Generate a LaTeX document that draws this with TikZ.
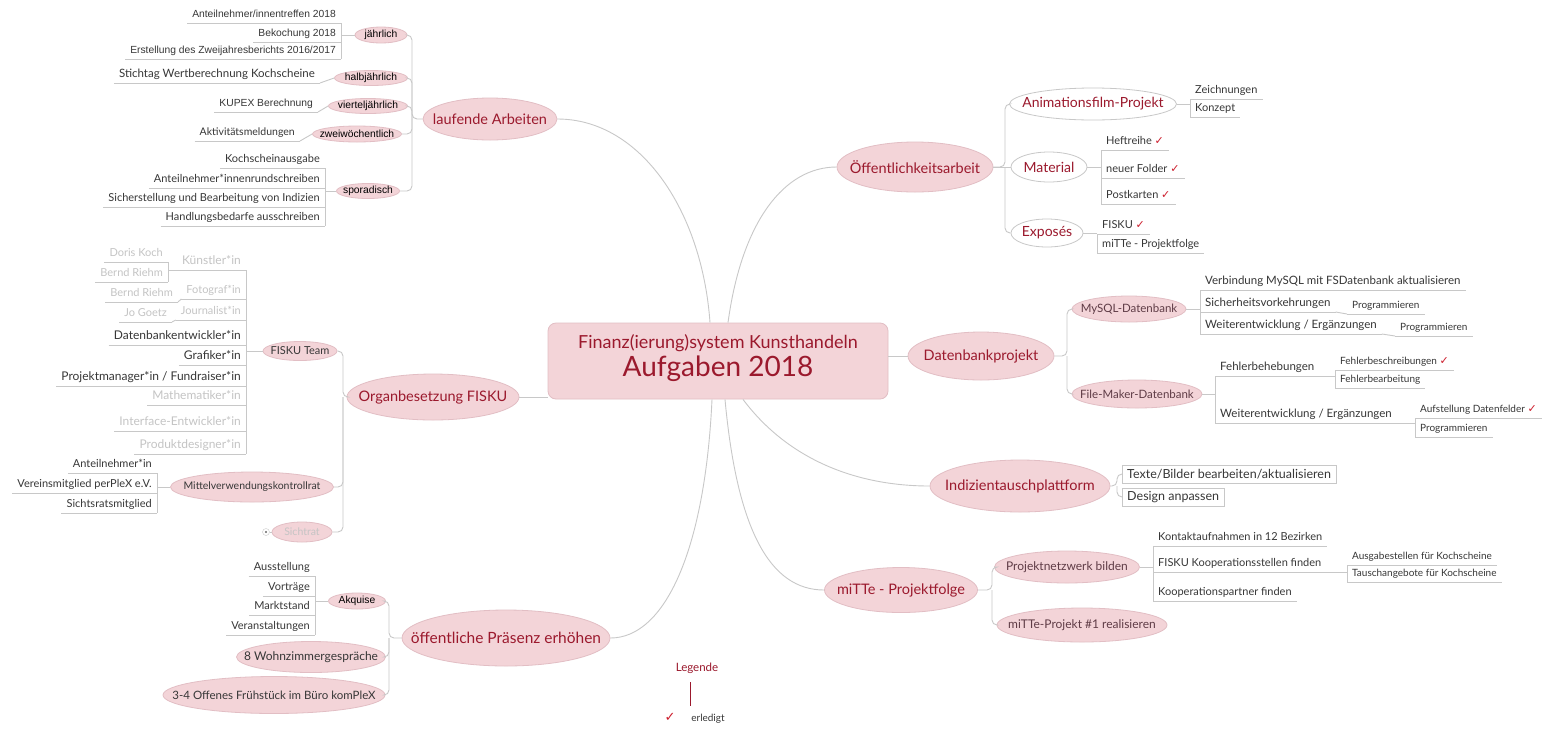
\documentclass[tikz,border=0pt]{standalone}
\usepackage{fontspec}
\setmainfont{Lato}
\newfontfamily\arf{Liberation Sans}
\newfontfamily\djf{DejaVu Sans}
\usetikzlibrary{shapes.geometric}
\definecolor{pk}{RGB}{243,212,216}
\definecolor{pkd}{RGB}{226,190,196}
\definecolor{dred}{RGB}{155,25,45}
\definecolor{lnc}{RGB}{200,200,200}
\definecolor{txt}{RGB}{55,55,55}
\definecolor{fad}{RGB}{196,196,196}
\definecolor{chk}{RGB}{205,30,45}
\definecolor{subc}{RGB}{95,60,70}
\newcommand\ctr[1]{\makebox[0pt]{#1}}
\newcommand\ok{~{\djf\color{chk}\fontsize{11}{11}\selectfont ✓}}
\begin{document}
\begin{tikzpicture}[x=1pt,y=-1pt,
 ln/.style={draw=lnc, line width=0.9pt},
 br/.style={ln, rounded corners=5pt},
 el/.style={ellipse, inner sep=0pt, fill=pk, draw=pkd, line width=0.8pt},
 main/.style={el, text=dred, font=\fontsize{14.5}{17}\selectfont},
 wel/.style={el, fill=white, draw=lnc, text=dred, font=\fontsize{14}{16}\selectfont},
 sel/.style={el, text=subc, font=\fontsize{11.5}{14}\selectfont},
 ael/.style={el, text=black, font=\arf\fontsize{10.3}{12}\selectfont},
 del/.style={el, text=txt, font=\fontsize{11}{13}\selectfont},
 ri/.style={anchor=south west, inner xsep=5pt, inner ysep=2.5pt, text height=8pt, text depth=2.5pt, text=txt, font=\fontsize{11}{13}\selectfont, append after command={(\tikzlastnode.south west) edge[ln] (\tikzlastnode.south east)}},
 li/.style={ri, anchor=south east},
 fd/.style={text=fad},
 sm/.style={font=\fontsize{10}{12}\selectfont},
 md/.style={font=\fontsize{11.5}{13}\selectfont},
 lg/.style={font=\fontsize{12}{14}\selectfont},
 ar/.style={font=\arf\fontsize{10.3}{12}\selectfont},
 bx/.style={draw=lnc, fill=white, anchor=west, inner xsep=5pt, minimum height=18pt, text=txt, font=\fontsize{12.5}{14}\selectfont},
 cen/.style={rectangle, rounded corners=8pt, fill=pk, draw=pkd, line width=0.8pt, minimum width=340pt, minimum height=76pt}
]
\fill[white] (0,0) rectangle (1552,729);
\useasboundingbox (0,0) rectangle (1552,729);

% ---------- central
\node[cen] (c) at (718,361) {};
\node[text=dred, font=\fontsize{18}{20}\selectfont] (ct1) at (718,343) {Finanz(ierung)system Kunsthandeln};
\node[text=dred, font=\fontsize{28}{30}\selectfont] (ct2) at (718,369) {Aufgaben 2018};

% ---------- Öffentlichkeitsarbeit
\node[main, minimum width=156pt, minimum height=50pt] (oa) at (915,167) {\ctr{Öffentlichkeitsarbeit}};
\node[wel, minimum width=167pt, minimum height=32pt] (af) at (1093,104) {\ctr{Animationsfilm-Projekt}};
\node[wel, minimum width=76pt, minimum height=30pt] (mat) at (1049,167) {\ctr{Material}};
\node[wel, minimum width=72pt, minimum height=28pt] (exp) at (1047,233) {\ctr{Exposés}};
\coordinate (j1) at (1005,167);
\draw[ln] (oa.east) -- (mat.west);
\draw[br] (oa.east) -- (j1) |- (af.west);
\draw[br] (j1) |- (exp.west);

\node[ri] (af1) at (1190,99) {Zeichnungen};
\node[ri] (af2) at (1190,117) {Konzept};
\draw[ln] (af.east) -- (af.east -| af1.south west);
\draw[ln] (af1.south west) -- (af2.south west);

\node[ri] (m1) at (1101,150) {Heftreihe\ok};
\node[ri] (m2) at (1101,178) {neuer Folder\ok};
\node[ri] (m3) at (1101,204) {Postkarten\ok};
\draw[ln] (mat.east) -- (mat.east -| m1.south west);
\draw[ln] (m1.south west) -- (m3.south west);

\node[ri] (e1) at (1097,234) {FISKU\ok};
\node[ri] (e2) at (1097,253) {miTTe - Projektfolge};
\draw[ln] (exp.east) -- (exp.east -| e1.south west);
\draw[ln] (e1.south west) -- (e2.south west);

% ---------- Datenbankprojekt
\node[main, minimum width=146pt, minimum height=48pt] (db) at (981,356) {\ctr{Datenbankprojekt}};
\node[sel, minimum width=114pt, minimum height=26pt] (my) at (1129,309) {\ctr{MySQL-Datenbank}};
\node[sel, minimum width=130pt, minimum height=28pt] (fm) at (1137,394) {\ctr{File-Maker-Datenbank}};
\coordinate (j2) at (1067,356);
\draw[ln] (db.west) -- (db.west -| c.east);
\draw[br] (db.east) -- (j2) |- (my.west);
\draw[br] (j2) |- (fm.west);

\node[ri, md] (my1) at (1200,290) {Verbindung MySQL mit FSDatenbank aktualisieren};
\node[ri, md] (my2) at (1200,312) {Sicherheitsvorkehrungen};
\node[ri, md] (my3) at (1200,334) {Weiterentwicklung / Ergänzungen};
\draw[ln] (my.east) -- (my.east -| my1.south west);
\draw[ln] (my1.south west) -- (my3.south west);
\node[ri, sm] (my2a) at (1347,314) {Programmieren};
\node[ri, sm] (my3a) at (1395,336) {Programmieren};
\draw[ln] (my2.south east) -- (my2a.south west);
\draw[ln] (my3.south east) -- (my3a.south west);

\node[ri, md] (fm1) at (1215,376) {Fehlerbehebungen};
\node[ri, md] (fm2) at (1215,423) {Weiterentwicklung / Ergänzungen};
\draw[ln] (fm.east) -- (fm.east -| fm1.south west);
\draw[ln] (fm1.south west) -- (fm2.south west);
\node[ri, sm] (fm1a) at (1335,370) {Fehlerbeschreibungen\ok};
\node[ri, sm] (fm1b) at (1335,388) {Fehlerbearbeitung};
\draw[ln] (fm1.south east) -- (fm1.south east -| fm1a.south west);
\draw[ln] (fm1a.south west) -- (fm1b.south west);
\node[ri, sm] (fm2a) at (1415,418) {Aufstellung Datenfelder\ok};
\node[ri, sm] (fm2b) at (1415,437) {Programmieren};
\draw[ln] (fm2.south east) -- (fm2.south east -| fm2a.south west);
\draw[ln] (fm2a.south west) -- (fm2b.south west);

% ---------- Indizientauschplattform
\node[main, minimum width=180pt, minimum height=52pt] (ind) at (1020,486) {\ctr{Indizientauschplattform}};
\node[bx] (in1) at (1122,474) {Texte/Bilder bearbeiten/aktualisieren};
\node[bx] (in2) at (1122,497) {Design anpassen};
\coordinate (j3) at (1117,486);
\draw[br] (ind.east) -- (j3) |- (in1.west);
\draw[br] (j3) |- (in2.west);

% ---------- miTTe
\node[main, minimum width=153pt, minimum height=45pt] (mi) at (901,590) {\ctr{miTTe - Projektfolge}};
\node[sel, lg, minimum width=145pt, minimum height=32pt] (pn) at (1067,567) {\ctr{Projektnetzwerk bilden}};
\node[sel, lg, minimum width=170pt, minimum height=34pt] (mp) at (1082,625) {\ctr{miTTe-Projekt \#1 realisieren}};
\coordinate (j4) at (992,590);
\draw[br] (mi.east) -- (j4) |- (pn.west);
\draw[br] (j4) |- (mp.west);

\node[ri] (pn1) at (1153,546) {Kontaktaufnahmen in 12 Bezirken};
\node[ri] (pn2) at (1153,572) {FISKU Kooperationsstellen finden};
\node[ri] (pn3) at (1153,601) {Kooperationspartner finden};
\draw[ln] (pn.east) -- (pn.east -| pn1.south west);
\draw[ln] (pn1.south west) -- (pn3.south west);
\node[ri, sm] (pn2a) at (1347,565) {Ausgabestellen für Kochscheine};
\node[ri, sm] (pn2b) at (1347,582) {Tauschangebote für Kochscheine};
\draw[ln] (pn2.south east) -- (pn2.south east -| pn2a.south west);
\draw[ln] (pn2a.south west) -- (pn2b.south west);

% ---------- laufende Arbeiten
\node[main, minimum width=134pt, minimum height=42pt] (la) at (490,119) {\ctr{laufende Arbeiten}};
\node[ael, minimum width=52pt, minimum height=16pt] (ja) at (381,35) {\ctr{jährlich}};
\node[ael, minimum width=73pt, minimum height=15pt] (hj) at (371,78) {\ctr{halbjährlich}};
\node[ael, minimum width=79pt, minimum height=15pt] (vj) at (368,106) {\ctr{vierteljährlich}};
\node[ael, minimum width=89pt, minimum height=16pt] (zw) at (357,134) {\ctr{zweiwöchentlich}};
\node[ael, minimum width=63pt, minimum height=15pt] (sp) at (368,191) {\ctr{sporadisch}};
\coordinate (j5) at (412,119);
\draw[br] (la.west) -- (j5) |- (ja.east);
\draw[br] (j5) |- (hj.east);
\draw[br] (j5) |- (vj.east);
\draw[br] (j5) |- (zw.east);
\draw[br] (j5) |- (sp.east);

\node[li, ar] (ja1) at (341,23) {Anteilnehmer/innentreffen 2018};
\node[li, ar] (ja2) at (341,42) {Bekochung 2018};
\node[li, ar] (ja3) at (341,59) {Erstellung des Zweijahresberichts 2016/2017};
\draw[ln] (ja.west) -- (ja.west -| ja1.south east);
\draw[ln] (ja1.south east) -- (ja3.south east);
\node[li, md] (hj1) at (320,83) {Stichtag Wertberechnung Kochscheine};
\draw[ln] (hj.west) -- (hj1.south east);
\node[li, ar] (vj1) at (318,112) {KUPEX Berechnung};
\draw[ln] (vj.west) -- (vj1.south east);
\node[li, font=\fontsize{10.5}{12}\selectfont] (zw1) at (300,141) {Aktivitätsmeldungen};
\draw[ln] (zw.west) -- (zw1.south east);

\node[li] (sp1) at (325,168) {Kochscheinausgabe};
\node[li] (sp2) at (325,188) {Anteilnehmer*innenrundschreiben};
\node[li] (sp3) at (325,207) {Sicherstellung und Bearbeitung von Indizien};
\node[li] (sp4) at (325,226) {Handlungsbedarfe ausschreiben};
\draw[ln] (sp.west) -- (sp.west -| sp1.south east);
\draw[ln] (sp1.south east) -- (sp4.south east);

% ---------- Organbesetzung FISKU
\node[main, minimum width=172pt, minimum height=46pt] (ob) at (433,397) {\ctr{Organbesetzung FISKU}};
\draw[ln] (ob.east) -- (ob.east -| c.west);
\node[del, minimum width=74pt, minimum height=19pt] (ft) at (300,351) {\ctr{FISKU Team}};
\node[del, font=\fontsize{10.5}{12}\selectfont, minimum width=163pt, minimum height=30pt] (mv) at (252,487) {\ctr{Mittelverwendungskontrollrat}};
\node[del, fd, font=\fontsize{10.5}{12}\selectfont, minimum width=60pt, minimum height=20pt] (sr) at (302,532) {\ctr{Sichtrat}};
\coordinate (j6) at (343,397);
\draw[br] (ob.west) -- (j6) |- (ft.east);
\draw[br] (j6) |- (mv.east);
\draw[br] (j6) |- (sr.east);
\node[circle, draw=lnc, fill=white, inner sep=0pt, minimum size=7pt] (srm) at (266,532) {};
\fill[black!60] (srm.center) circle (1.2pt);
\draw[ln] (srm.east) -- (sr.west);

\node[li, lg, fd] (f1) at (246,270) {Künstler*in};
\node[li, fd] (f2) at (246,299) {Fotograf*in};
\node[li, fd] (f3) at (246,320) {Journalist*in};
\node[li, lg] (f4) at (246,345) {Datenbankentwickler*in};
\node[li, lg] (f5) at (246,365) {Grafiker*in};
\node[li, lg] (f6) at (246,386) {Projektmanager*in / Fundraiser*in};
\node[li, lg, fd] (f7) at (246,405) {Mathematiker*in};
\node[li, lg, fd] (f8) at (246,431) {Interface-Entwickler*in};
\node[li, lg, fd] (f9) at (246,454) {Produktdesigner*in};
\draw[ln] (ft.west) -- (ft.west -| f1.south east);
\draw[ln] (f1.south east) -- (f9.south east);

\node[li, fd] (k1) at (168,262) {Doris Koch};
\node[li, fd] (k2) at (168,282) {Bernd Riehm};
\draw[ln] (f1.south west) -- (f1.south west -| k1.south east);
\draw[ln] (k1.south east) -- (k2.south east);
\node[li, fd] (fo1) at (178,302) {Bernd Riehm};
\draw[ln] (f2.south west) -- (fo1.south east);
\node[li, fd] (jo1) at (172,322) {Jo Goetz};
\draw[ln] (f3.south west) -- (jo1.south east);

\node[li] (mv1) at (157,473) {Anteilnehmer*in};
\node[li] (mv2) at (157,493) {Vereinsmitglied perPleX e.V.};
\node[li] (mv3) at (157,513) {Sichtsratsmitglied};
\draw[ln] (mv.west) -- (mv.west -| mv1.south east);
\draw[ln] (mv1.south east) -- (mv3.south east);

% ---------- öffentliche Präsenz erhöhen
\node[main, font=\fontsize{15.5}{18}\selectfont, minimum width=208pt, minimum height=56pt] (op) at (506,638) {\ctr{öffentliche Präsenz erhöhen}};
\node[ael, minimum width=57pt, minimum height=16pt] (ak) at (357,601) {\ctr{Akquise}};
\node[del, lg, minimum width=149pt, minimum height=31pt] (wz) at (311,657) {\ctr{8 Wohnzimmergespräche}};
\node[del, md, minimum width=222pt, minimum height=37pt] (fr) at (274,695) {\ctr{3-4 Offenes Frühstück im Büro komPleX}};
\coordinate (j7) at (389,638);
\draw[br] (op.west) -- (j7) |- (ak.east);
\draw[br] (j7) |- (wz.east);
\draw[br] (j7) |- (fr.east);

\node[li] (a1) at (315,576) {Ausstellung};
\node[li] (a2) at (315,596) {Vorträge};
\node[li] (a3) at (315,615) {Marktstand};
\node[li] (a4) at (315,635) {Veranstaltungen};
\draw[ln] (ak.west) -- (ak.west -| a1.south east);
\draw[ln] (a1.south east) -- (a4.south east);

% ---------- central connectors
\draw[ln] ([xshift=-8pt]c.north) .. controls (702,210) and (640,119) .. (la.east);
\draw[ln] ([xshift=10pt]c.north) .. controls (742,220) and (785,167) .. (oa.west);
\draw[ln] ([xshift=25pt]c.south) .. controls (790,462) and (860,486) .. (ind.west);
\draw[ln] ([xshift=7pt]c.south) .. controls (737,530) and (770,590) .. (mi.west);
\draw[ln] ([xshift=-6pt]c.south) .. controls (705,550) and (665,638) .. (op.east);

% ---------- legend
\node[text=dred, font=\fontsize{11.5}{13}\selectfont] (lg) at (697,668) {Legende};
\coordinate (lgs) at (690,682);
\coordinate (lge) at (690,706);
\draw[dred, line width=0.6pt] (lgs) -- (lge);
\node[text=chk, font=\djf\fontsize{13}{14}\selectfont] (lgc) at (670,717) {✓};
\node[text=txt, font=\fontsize{10}{12}\selectfont] (lgt) at (708,719) {erledigt};
\end{tikzpicture}
\end{document}
